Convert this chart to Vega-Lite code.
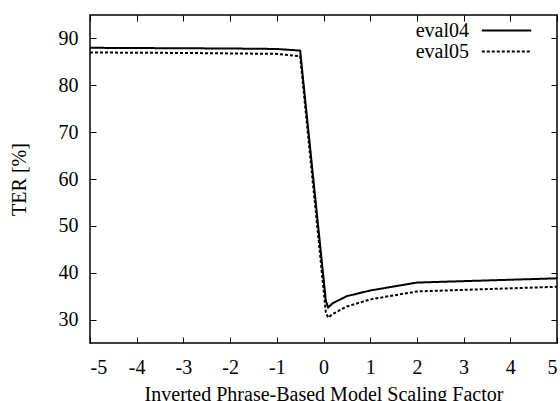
{
  "$schema": "https://vega.github.io/schema/vega-lite/v6.json",
  "width": 467,
  "height": 328,
  "autosize": {"type": "none"},
  "padding": {"left": 90, "top": 15, "right": 3, "bottom": 58},
  "background": "white",
  "config": {
    "font": "Liberation Serif",
    "view": {"stroke": "black", "strokeWidth": 1.5},
    "axis": {"domain": false, "ticks": false, "grid": true, "gridColor": "black", "gridWidth": 1, "gridOpacity": 1, "labelColor": "black", "titleColor": "black", "labelFont": "Liberation Serif", "titleFont": "Liberation Serif", "labelFontSize": 20, "titleFontSize": 20, "titleFontWeight": "normal"}
  },
  "data": {
    "values": [
      {"x": -5, "y": 88.0, "series": "eval04"},
      {"x": -4, "y": 87.95, "series": "eval04"},
      {"x": -3, "y": 87.9, "series": "eval04"},
      {"x": -2, "y": 87.85, "series": "eval04"},
      {"x": -1, "y": 87.75, "series": "eval04"},
      {"x": -0.5, "y": 87.4, "series": "eval04"},
      {"x": 0.05, "y": 34.0, "series": "eval04"},
      {"x": 0.1, "y": 32.6, "series": "eval04"},
      {"x": 0.2, "y": 33.5, "series": "eval04"},
      {"x": 0.5, "y": 35.0, "series": "eval04"},
      {"x": 1, "y": 36.2, "series": "eval04"},
      {"x": 2, "y": 37.9, "series": "eval04"},
      {"x": 5, "y": 38.8, "series": "eval04"},
      {"x": -5, "y": 87.0, "series": "eval05"},
      {"x": -4, "y": 86.95, "series": "eval05"},
      {"x": -3, "y": 86.9, "series": "eval05"},
      {"x": -2, "y": 86.8, "series": "eval05"},
      {"x": -1, "y": 86.7, "series": "eval05"},
      {"x": -0.5, "y": 86.2, "series": "eval05"},
      {"x": 0.05, "y": 31.6, "series": "eval05"},
      {"x": 0.1, "y": 30.4, "series": "eval05"},
      {"x": 0.2, "y": 31.2, "series": "eval05"},
      {"x": 0.5, "y": 32.8, "series": "eval05"},
      {"x": 1, "y": 34.3, "series": "eval05"},
      {"x": 2, "y": 36.0, "series": "eval05"},
      {"x": 5, "y": 37.0, "series": "eval05"}
    ]
  },
  "mark": {"type": "line", "color": "black", "strokeWidth": 2, "clip": true},
  "encoding": {
    "x": {"field": "x", "type": "quantitative", "scale": {"domain": [-5, 5], "nice": false, "zero": false},
          "axis": {"orient": "bottom", "values": [-5, -4, -3, -2, -1, 0, 1, 2, 3, 4, 5], "labelExpr": "'' + datum.value", "gridDash": [6, 316, 6], "title": "Inverted Phrase-Based Model Scaling Factor", "labelPadding": 14, "titlePadding": 7}},
    "y": {"field": "y", "type": "quantitative", "scale": {"domain": [25, 95], "nice": false, "zero": false},
          "axis": {"orient": "left", "values": [30, 40, 50, 60, 70, 80, 90], "gridDash": [6, 455, 6], "title": "TER [%]", "labelPadding": 12, "titlePadding": 29}},
    "strokeDash": {"field": "series", "type": "nominal",
          "scale": {"domain": ["eval04", "eval05"], "range": [[1, 0], [3, 2]]},
          "legend": {"title": null, "orient": "none", "legendX": 406, "legendY": 5, "padding": 0, "symbolType": "M-2.6,0H2.6", "symbolSize": 361, "symbolStrokeWidth": 2, "symbolStrokeColor": "black", "symbolFillColor": "transparent", "labelAlign": "right", "labelOffset": -48, "labelFontSize": 20, "labelFont": "Liberation Serif", "labelColor": "black", "rowPadding": -1}},
    "detail": {"field": "series"}
  }
}
